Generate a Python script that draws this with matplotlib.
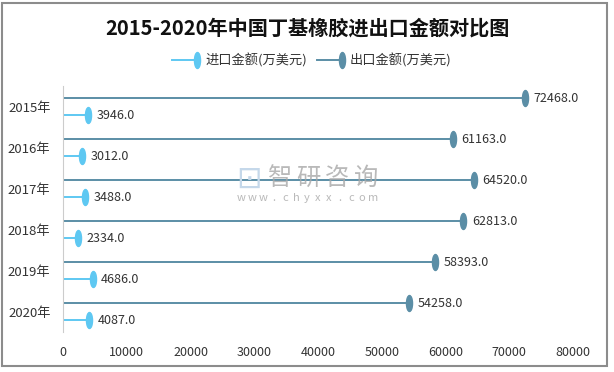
import matplotlib
matplotlib.use('Agg')
import matplotlib.pyplot as plt
from matplotlib.path import Path
from matplotlib.transforms import Affine2D
from matplotlib.patches import Rectangle
from matplotlib.lines import Line2D
import numpy as np

plt.rcParams['font.family'] = ['Noto Sans CJK SC', 'DejaVu Sans']

#Chart data
years = ['2015年', '2016年', '2017年', '2018年', '2019年', '2020年']
import_vals = [3946.0, 3012.0, 3488.0, 2334.0, 4686.0, 4087.0]
export_vals = [72468.0, 61163.0, 64520.0, 62813.0, 58393.0, 54258.0]
xticks = [0, 10000, 20000, 30000, 40000, 50000, 60000, 70000, 80000]
series_names = ['进口金额(万美元)', '出口金额(万美元)']

c_import = '#5ec8f2'
c_export = '#5b8ea6'

#narrow vertical ellipse marker
ellipse = Path.unit_circle().transformed(Affine2D().scale(0.38, 1.0))

fig = plt.figure(figsize=(6.14, 3.72), dpi=100)
fig.patches.append(Rectangle((0.004, 0.016), 0.984, 0.975, transform=fig.transFigure,
                             fill=False, edgecolor='#8c8c8c', linewidth=1.5))

ax = fig.add_axes([0.1026, 0.1075, 0.8306, 0.6613])

y = np.arange(len(years))
y_exp = y - 0.2
y_imp = y + 0.21

ax.hlines(y_exp, 0, export_vals, color=c_export, linewidth=1.4)
ax.hlines(y_imp, 0, import_vals, color=c_import, linewidth=1.4)
ax.plot(export_vals, y_exp, linestyle='none', marker=ellipse, markersize=11.5,
        color=c_export)
ax.plot(import_vals, y_imp, linestyle='none', marker=ellipse, markersize=11.5,
        color=c_import)

for v, yy in zip(export_vals, y_exp):
    ax.annotate('%.1f' % v, (v, yy), xytext=(6, 0), textcoords='offset points',
                va='center', ha='left', fontsize=9, color='#333333')
for v, yy in zip(import_vals, y_imp):
    ax.annotate('%.1f' % v, (v, yy), xytext=(6, 0), textcoords='offset points',
                va='center', ha='left', fontsize=9, color='#333333')

ax.set_xlim(0, 80000)
ax.set_ylim(len(years) - 0.5, -0.5)
ax.set_xticks(xticks)
ax.set_xticklabels([str(t) for t in xticks], fontsize=9, color='#333333')
ax.set_yticks(y)
ax.set_yticklabels(years, fontsize=9.5, color='#333333')
ax.tick_params(axis='both', length=0)
ax.tick_params(axis='x', pad=10)
ax.tick_params(axis='y', pad=9)
for s in ['top', 'right', 'bottom']:
    ax.spines[s].set_visible(False)
ax.spines['left'].set_color('#cccccc')

#Legend drawn by hand: line with marker at its right end
W, H = 614.0, 372.0
ly = 1 - 60 / H
for (x0, x1), col, name in zip([(172, 197), (317, 342)], [c_import, c_export], series_names):
    fig.add_artist(Line2D([x0 / W, x1 / W], [ly, ly], color=col, linewidth=1.4,
                          transform=fig.transFigure))
    fig.add_artist(Line2D([x1 / W], [ly], color=col, marker=ellipse, markersize=11.5,
                          linestyle='none', transform=fig.transFigure))
    fig.text((x1 + 8) / W, ly, name, ha='left', va='center', fontsize=9.5, color='#333333')

fig.text(0.5, 0.925, '2015-2020年中国丁基橡胶进出口金额对比图', ha='center', va='center',
         fontsize=14.5, fontweight='bold', color='#111111')

#Watermark
fig.text(249 / W, 1 - 179 / H, '⊡', ha='center', va='center', fontsize=22,
         color='#c5d8ea', family=['DejaVu Sans'])
for i, ch in enumerate('智研咨询'):
    fig.text((280 + 28.7 * i) / W, 1 - 178 / H, ch, ha='center', va='center',
             fontsize=17.5, color='#a8a8a8', alpha=0.8)
for i, ch in enumerate('www.chyxx.com'):
    fig.text((241 + 11 * i) / W, 1 - 198 / H, ch, ha='center', va='center',
             fontsize=8, color='#a8a8a8', alpha=0.8)

fig.savefig('out.png', dpi=100)
